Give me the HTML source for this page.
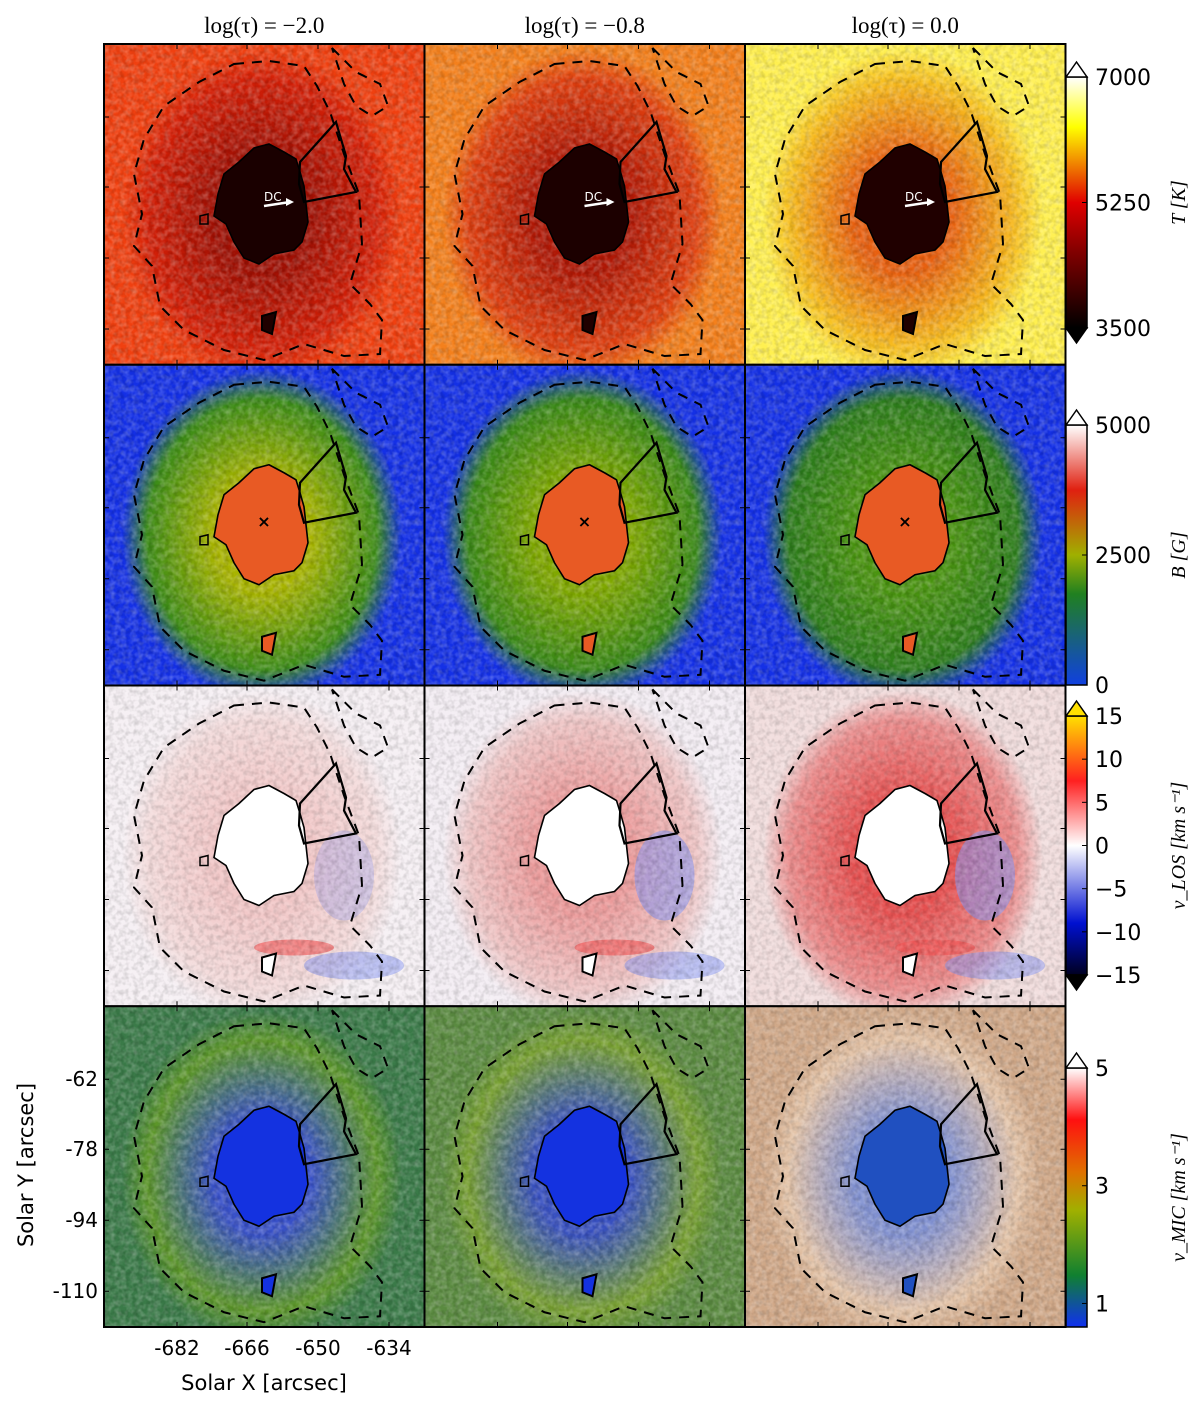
<!DOCTYPE html>
<html><head><meta charset="utf-8"><style>
html,body{margin:0;padding:0;background:#fff;}
svg{display:block;}
text{font-family:"DejaVu Sans","Liberation Sans",sans-serif;}
.ser{font-family:"Liberation Serif",serif;}
</style></head><body>
<svg id="fig" width="1200" height="1405" viewBox="0 0 1200 1405" xmlns="http://www.w3.org/2000/svg">
<defs>
  <filter id="grain" x="0" y="0" width="100%" height="100%">
    <feTurbulence type="fractalNoise" baseFrequency="0.18" numOctaves="2" seed="3"/>
    <feColorMatrix type="matrix" values="0 0 0 0 1  0 0 0 0 1  0 0 0 0 1  0 0 0 0.9 -0.3"/>
  </filter>
  <filter id="grainD" x="0" y="0" width="100%" height="100%">
    <feTurbulence type="fractalNoise" baseFrequency="0.2" numOctaves="2" seed="7"/>
    <feColorMatrix type="matrix" values="0 0 0 0 0  0 0 0 0 0  0 0 0 0 0  0 0 0 0.9 -0.35"/>
  </filter>
</defs>
<g id="panels"></g>
<g id="bars"></g>
</svg>
<script>
const NS='http://www.w3.org/2000/svg';
const titles=['log(τ) = −2.0','log(τ) = −0.8','log(τ) = 0.0'];
const xTickLabels=['-682','-666','-650','-634'];
const yTickLabels=['-62','-78','-94','-110'];
const tTicks=[7000,5250,3500];
const bTicks=[5000,2500,0];
const vTicks=[15,10,5,0,-5,-10,-15];
const mTicks=[5,3,1];
// panel colours [bg, penumbra-outer, penumbra-inner, umbra]
const rowColors=[
 [['#f04010','#d42008','#a01004','#1a0000'],['#f4801c','#e04010','#b01806','#1c0000'],['#fff050','#f8c020','#e86010','#200000']],
 [['#1430e6','#3c8c18','#a8b400','#e85a24'],['#1430e6','#388818','#80a800','#e85a24'],['#1430e6','#2c7c1c','#4a9410','#e85a24']],
 [['#f6f0f4','#f4dcdc','#f2c8c8','#ffffff'],['#f4eef4','#f0c8c8','#ec9c9c','#ffffff'],['#f2dede','#ec9090','#e65050','#ffffff']],
 [['#3a7a48','#5c9628','#3850c8','#1432e0'],['#5a8a40','#78a030','#3850c0','#1432e0'],['#d0a888','#e4c4a8','#8090d0','#2050c0']]
];
const P0x=104,P0y=44,PW=320.5,PH=320.75;
const g=document.getElementById('panels');
function el(tag,attrs,parent){const e=document.createElementNS(NS,tag);for(const k in attrs)e.setAttribute(k,attrs[k]);(parent||g).appendChild(e);return e;}
const umbra='M165,100 L180,108 L192,115 L196,128 L200,142 L202,160 L204,178 L198,198 L190,206 L170,210 L155,220 L140,214 L130,198 L122,180 L110,172 L114,150 L120,130 L135,118 L150,104 Z';
const bridge='M196,118 L232,78 L242,112 L240,125 L252,148 L200,158 L195,140 Z';
const dashed='M130,20 L165,17 L200,22 L213,42 L226,68 L240,110 L255,150 L258,200 L246,240 L266,260 L278,276 L276,310 L240,312 L200,300 L160,316 L120,306 L80,286 L56,262 L48,222 L30,202 L38,170 L30,130 L40,95 L60,62 L95,38 Z';
const loop='M228,4 L252,28 L276,40 L284,62 L268,72 L252,62 L240,40 Z';
const tickPos=[73,143,214,285];
for(let r=0;r<4;r++)for(let c=0;c<3;c++){
  const x=P0x+c*PW,y=P0y+r*PH,col=rowColors[r][c];
  const p=el('g',{transform:`translate(${x},${y})`});
  
  
  const cp=el('clipPath',{id:`cp${r}${c}`},p);el('rect',{width:PW,height:PH},cp);
  const inner=el('g',{'clip-path':`url(#cp${r}${c})`},p);
  el('rect',{width:PW,height:PH,fill:col[0]},inner);
  const gid=`rg${r}${c}`;
  const rg=el('radialGradient',{id:gid,cx:'0.5',cy:'0.5',r:'0.5'},inner);
  el('stop',{offset:'0.35','stop-color':col[2]},rg);
  el('stop',{offset:'0.82','stop-color':col[1]},rg);
  el('stop',{offset:'1','stop-color':col[1],'stop-opacity':'0'},rg);
  el('ellipse',{cx:158,cy:170,rx:140,ry:165,fill:`url(#${gid})`},inner);
  if(r===2){
    el('ellipse',{cx:240,cy:190,rx:30,ry:45,fill:'#8090f0',opacity:c===0?0.3:0.55},inner);
    el('ellipse',{cx:250,cy:280,rx:50,ry:14,fill:'#8090f0',opacity:0.5},inner);
    el('ellipse',{cx:190,cy:262,rx:40,ry:8,fill:'#f05050',opacity:0.6},inner);
  }
  el('rect',{width:PW,height:PH,filter:'url(#grain)',opacity:r===2?0.4:0.55},inner);
  el('rect',{width:PW,height:PH,filter:'url(#grainD)',opacity:0.35},inner);
  el('path',{d:umbra,fill:col[3]},inner);
  el('path',{d:'M158,272 L172,268 L168,290 L158,286 Z',fill:r===0?'#200000':col[3]},inner);
  el('path',{d:dashed,fill:'none',stroke:'#000','stroke-width':2,'stroke-dasharray':'10,8'},inner);
  el('path',{d:loop,fill:'none',stroke:'#000','stroke-width':2,'stroke-dasharray':'10,8'},inner);
  el('path',{d:umbra,fill:'none',stroke:'#000','stroke-width':1.6},inner);
  el('path',{d:bridge,fill:'none',stroke:'#000','stroke-width':2.2},inner);
  el('path',{d:'M96,172 L104,170 L104,180 L96,180 Z',fill:'none',stroke:'#000','stroke-width':1.5},inner);
  el('path',{d:'M158,272 L172,268 L168,290 L158,286 Z',fill:'none',stroke:'#000','stroke-width':2},inner);
  if(r===0){
    const t=el('text',{x:160,y:157,fill:'#fff','font-size':12},inner);t.textContent='DC';
    
    el('path',{d:'M160,162 L186,158',stroke:'#fff','stroke-width':2.5},inner);
    el('path',{d:'M182,154 L190,158 L182,162 Z',fill:'#fff'},inner);
  }
  if(r===1){const m=el('text',{x:160,y:162,'text-anchor':'middle','font-size':16,'font-weight':'bold',fill:'#000'},inner);m.textContent='×';
    }
  tickPos.forEach(t=>{
    el('line',{x1:t,y1:0,x2:t,y2:5,stroke:'#000'},p);el('line',{x1:t,y1:PH,x2:t,y2:PH-5,stroke:'#000'},p);
    el('line',{x1:0,y1:t,x2:5,y2:t,stroke:'#000'},p);el('line',{x1:PW,y1:t,x2:PW-5,y2:t,stroke:'#000'},p);
  });
  el('rect',{width:PW,height:PH,fill:'none',stroke:'#000','stroke-width':2},p);
}
titles.forEach((s,i)=>{const t=el('text',{x:P0x+i*PW+PW/2,y:33,'text-anchor':'middle','font-size':23,class:'ser'});t.textContent=s;
  });
xTickLabels.forEach((s,i)=>{const t=el('text',{x:P0x+tickPos[i],y:1355,'text-anchor':'middle','font-size':20});t.textContent=s;
  });
yTickLabels.forEach((s,i)=>{const t=el('text',{x:98,y:1006+tickPos[i]+7,'text-anchor':'end','font-size':20});t.textContent=s;
  });
let xt=el('text',{x:264,y:1390,'text-anchor':'middle','font-size':21});xt.textContent='Solar X [arcsec]';

let yt=el('text',{x:0,y:0,transform:'translate(33,1165) rotate(-90)','text-anchor':'middle','font-size':21});yt.textContent='Solar Y [arcsec]';


const bars=[
 {ticks:tTicks,vmin:3500,vmax:7000,top:77,bot:328,up:'#ffffff',dn:'#000000',stops:[['0','#000'],['0.3','#800000'],['0.5','#e00000'],['0.65','#f08000'],['0.8','#ffff00'],['1','#ffffff']],label:'T [K]',name:'temperature'},
 {ticks:bTicks,vmin:0,vmax:5000,top:425,bot:685,up:'#ffffff',dn:null,stops:[['0','#1040e0'],['0.35','#208020'],['0.5','#a0b000'],['0.75','#e02010'],['1','#ffffff']],label:'B [G]',name:'field-strength'},
 {ticks:vTicks,vmin:-15,vmax:15,top:716,bot:975,up:'#ffe000',dn:'#000000',stops:[['0','#000020'],['0.2','#0010d0'],['0.5','#ffffff'],['0.75','#ff2020'],['1','#ffe000']],label:'v_LOS [km s⁻¹]',name:'los-velocity'},
 {ticks:mTicks,vmin:0.6,vmax:5,top:1068,bot:1327,up:'#ffffff',dn:null,stops:[['0','#1030f0'],['0.2','#108030'],['0.45','#a0b000'],['0.6','#e07000'],['0.8','#ff1010'],['1','#ffffff']],label:'v_MIC [km s⁻¹]',name:'microturbulence'}
];
const bg=document.getElementById('bars');
bars.forEach((b,i)=>{
  const grp=el('g',{},bg);
  
  
  const lg=el('linearGradient',{id:'cb'+i,x1:0,y1:1,x2:0,y2:0},grp);
  b.stops.forEach(s=>el('stop',{offset:s[0],'stop-color':s[1]},lg));
  const x0=1066,w=21;
  el('rect',{x:x0,y:b.top,width:w,height:b.bot-b.top,fill:`url(#cb${i})`,stroke:'#000','stroke-width':1.5},grp);
  el('path',{d:`M${x0},${b.top} L${x0+w/2},${b.top-15} L${x0+w},${b.top} Z`,fill:b.up,stroke:'#000','stroke-width':1.5},grp);
  if(b.dn)el('path',{d:`M${x0},${b.bot} L${x0+w/2},${b.bot+15} L${x0+w},${b.bot} Z`,fill:b.dn,stroke:'#000','stroke-width':1.5},grp);
  const ys=v=>b.bot-(v-b.vmin)/(b.vmax-b.vmin)*(b.bot-b.top);
  b.ticks.forEach(v=>{
    const y=ys(v);
    el('line',{x1:x0+w-5,y1:y,x2:x0+w,y2:y,stroke:'#000'},grp);
    const t=el('text',{x:1095,y:y+8,'font-size':22},grp);t.textContent=String(v).replace('-','−');
    
  });
  const lab=el('text',{x:0,y:0,transform:`translate(1185,${(b.top+b.bot)/2}) rotate(-90)`,'text-anchor':'middle','font-size':20,'font-style':'italic',class:'ser'},grp);
  lab.textContent=b.label;
  
});
</script>
</body></html>
